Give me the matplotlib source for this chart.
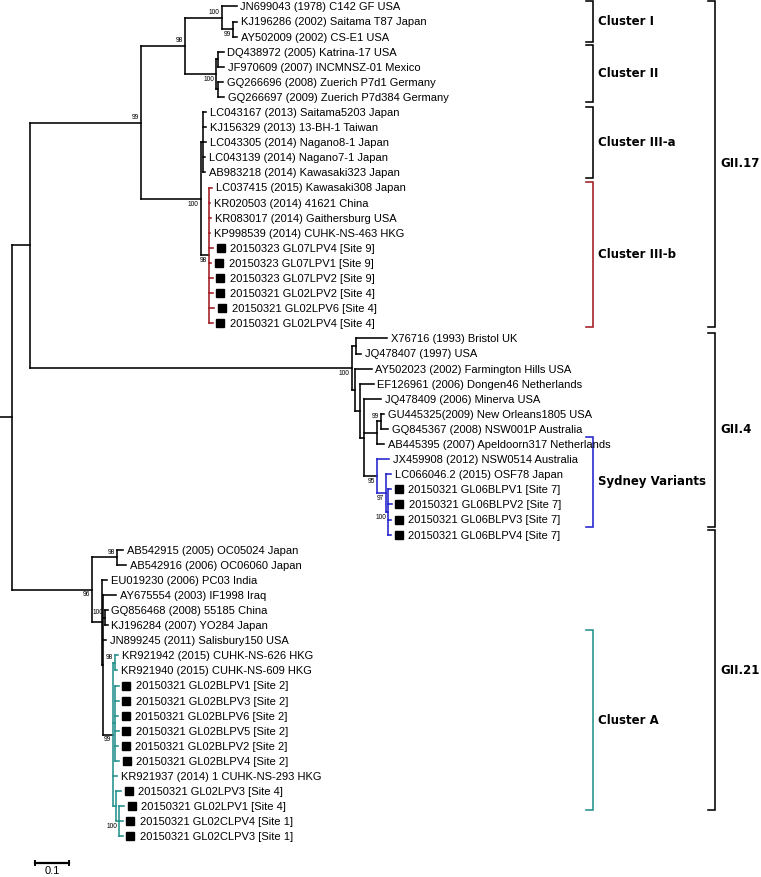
#!/usr/bin/env python3
import matplotlib
matplotlib.use('Agg')
import matplotlib.pyplot as plt
from matplotlib.collections import LineCollection

# --- tree data -------------------------------------------------------------
# leaf   = (label, branch length)
# clade  = ([children], branch length, bootstrap, tag)
# branch lengths in substitutions/site

cluster_I = ([
    ('JN699043 (1978) C142 GF USA', 0.0437),
    ([('KJ196286 (2002) Saitama T87 Japan', 0.0108),
      ('AY502009 (2002) CS-E1 USA', 0.0108)], 0.0338, 99, None),
], 0.1070, 100, None)

cluster_II = ([
    ([('DQ438972 (2005) Katrina-17 USA', 0.0152),
      ('JF970609 (2007) INCMNSZ-01 Mexico', 0.0180)], 0.0067, None, None),
    ([('GQ266696 (2008) Zuerich P7d1 Germany', 0.0137),
      ('GQ266697 (2009) Zuerich P7d384 Germany', 0.0166)], 0.0067, None, None),
], 0.0904, 100, None)

cluster_IIIa = ([
    ('LC043167 (2013) Saitama5203 Japan', 0.0102),
    ('KJ156329 (2013) 13-BH-1 Taiwan', 0.0087),
    ('LC043305 (2014) Nagano8-1 Japan', 0.0087),
    ('LC043139 (2014) Nagano7-1 Japan', 0.0073),
    ('AB983218 (2014) Kawasaki323 Japan', 0.0073),
], 0.0067, None, None)

cluster_IIIb = ([
    ('LC037415 (2015) Kawasaki308 Japan', 0.0087),
    ('KR020503 (2014) 41621 China', 0.0044),
    ('KR083017 (2014) Gaithersburg USA', 0.0058),
    ('KP998539 (2014) CUHK-NS-463 HKG', 0.0044),
    ('20150323 GL07LPV4 [Site 9]', 0.0119),
    ('20150323 GL07LPV1 [Site 9]', 0.0073),
    ('20150323 GL07LPV2 [Site 9]', 0.0110),
    ('20150321 GL02LPV2 [Site 4]', 0.0110),
    ('20150321 GL02LPV6 [Site 4]', 0.0160),
    ('20150321 GL02LPV4 [Site 4]', 0.0110),
], 0.0242, 98, 'IIIb')

gii17 = ([
    ([cluster_I, cluster_II], 0.1292, 98, None),
    ([cluster_IIIa, cluster_IIIb], 0.1749, 100, None),
], 0.3227, 99, None)

sydney = ([
    ('JX459908 (2012) NSW0514 Australia', 0.0350),
    ([('LC066046.2 (2015) OSF78 Japan', 0.0160),
      ([('20150321 GL06BLPV1 [Site 7]', 0.0079),
        ('20150321 GL06BLPV2 [Site 7]', 0.0094),
        ('20150321 GL06BLPV3 [Site 7]', 0.0079),
        ('20150321 GL06BLPV4 [Site 7]', 0.0079)], 0.0067, 100, None)],
     0.0262, 97, None),
], 0.0370, 95, 'sydney')

gii4 = ([
    ([('X76716 (1993) Bristol UK', 0.0904),
      ('JQ478407 (1997) USA', 0.0146)], 0.0125, None, None),
    ([('AY502023 (2002) Farmington Hills USA', 0.0481),
      ([('EF126961 (2006) Dongen46 Netherlands', 0.0394),
        ([('JQ478409 (2006) Minerva USA', 0.0501),
          ([([('GU445325(2009) New Orleans1805 USA', 0.0087),
              ('GQ845367 (2008) NSW001P Australia', 0.0204)], 0.0108, 99, None),
            ('AB445395 (2007) Apeldoorn317 Netherlands', 0.0195)], 0.0379, None, None),
          sydney], 0.0125, None, None)],
       0.0146, None, None)],
     0.0096, None, None),
], 0.9379, 100, None)

cluster_A = ([
    ([('KR921942 (2015) CUHK-NS-626 HKG', 0.0087),
      ('KR921940 (2015) CUHK-NS-609 HKG', 0.0058)], 0.0050, 98, None),
    ([('20150321 GL02BLPV1 [Site 2]', 0.0117),
      ('20150321 GL02BLPV3 [Site 2]', 0.0117),
      ('20150321 GL02BLPV6 [Site 2]', 0.0102),
      ('20150321 GL02BLPV5 [Site 2]', 0.0117),
      ('20150321 GL02BLPV2 [Site 2]', 0.0102),
      ('20150321 GL02BLPV4 [Site 2]', 0.0131)], 0.0035, None, None),
    ('KR921937 (2014) 1 CUHK-NS-293 HKG', 0.0108),
    ([('20150321 GL02LPV3 [Site 4]', 0.0146),
      ([('20150321 GL02LPV1 [Site 4]', 0.0137),
        ('20150321 GL02CLPV4 [Site 1]', 0.0093),
        ('20150321 GL02CLPV3 [Site 1]', 0.0093)], 0.0096, 100, None)],
     0.0079, None, None),
], 0.0300, 99, 'A')

gii21 = ([
    ([('AB542915 (2005) OC05024 Japan', 0.0184),
      ('AB542916 (2006) OC06060 Japan', 0.0271)], 0.0729, 98, None),
    ([('EU019230 (2006) PC03 India', 0.0155),
      ([('AY675554 (2003) IF1998 Iraq', 0.0379),
        ([('GQ856468 (2008) 55185 China', 0.0073),
          ('KJ196284 (2007) YO284 Japan', 0.0073)], 0.0058, 100, None),
        ('JN899245 (2011) Salisbury150 USA', 0.0087),
        cluster_A], 0.0038, None, None)],
     0.0292, None, None),
], 0.2324, 96, None)

tree = ([
    ([gii17, gii4], 0.0525, None, None),
    gii21,
], 0.0350, None, None)

# bracket annotations (spans in leaf-row units)
cluster_names = ['Cluster I', 'Cluster II', 'Cluster III-a', 'Cluster III-b',
                 'Sydney Variants', 'Cluster A']
cluster_top = [-0.36, 2.55, 6.64, 11.61, 28.51, 41.32]
cluster_bottom = [2.33, 6.31, 11.38, 21.22, 34.47, 53.25]
cluster_tags = [None, None, None, 'IIIb', 'sydney', 'A']

genotype_names = ['GII.17', 'GII.4', 'GII.21']
genotype_top = [-0.36, 21.62, 34.69]
genotype_bottom = [21.22, 34.47, 53.25]

# --- style -----------------------------------------------------------------
CLADE_COLOURS = {'IIIb': '#a01c22', 'sydney': '#2222cc', 'A': '#23908c'}
PX_PER_UNIT = 343.0          # pixels per substitution/site
ROW_PX = 15.09               # pixels per leaf row
TOP_PX = 6.5
W, H = 761, 877
LEAF_FONT = ['Liberation Sans', 'DejaVu Sans']
LW = 1.15

segments = {}
leaves = []
boots = []
row = [0]


def walk(node, parent_x, colour, last):
    if isinstance(node[0], str):
        name, bl = node
        x = parent_x + bl
        y = row[0]
        row[0] += 1
        segments.setdefault(colour, []).append([(parent_x, y), (x, y)])
        leaves.append((x, y, name, colour))
        return y
    kids, bl, boot, tag = node
    x = parent_x + bl
    sub = CLADE_COLOURS.get(tag, colour)
    ys = [walk(k, x, sub, i == len(kids) - 1) for i, k in enumerate(kids)]
    y = (ys[0] + ys[-1]) / 2.0
    segments.setdefault(colour, []).append([(parent_x, y), (x, y)])
    segments.setdefault(sub, []).append([(x, ys[0]), (x, ys[-1])])
    if boot is not None:
        boots.append((x, y, boot, not last))
    return y


walk(tree, -12 / PX_PER_UNIT, 'black', True)

fig = plt.figure(figsize=(W / 100, H / 100), dpi=100)
ax = fig.add_axes([0, 0, 1, 1])
ax.set_xlim(-12 / PX_PER_UNIT, (W - 12) / PX_PER_UNIT)
ax.set_ylim((H - TOP_PX) / ROW_PX, -TOP_PX / ROW_PX)
ax.axis('off')

for colour, segs in segments.items():
    ax.add_collection(LineCollection(segs, colors=colour, linewidths=LW,
                                     capstyle='projecting'))

dx = 1 / PX_PER_UNIT
for x, y, name, colour in leaves:
    if name.startswith('2015032'):
        ax.plot(x + 7.7 * dx, y, marker='s', ms=6, color='black', mec='black')
        off = 12.3
    else:
        off = 2.6
    ax.annotate(name, (x, y), xytext=(off, -2.8), textcoords='offset points',
                va='baseline', ha='left', fontsize=8, family=LEAF_FONT)

for x, y, val, above in boots:
    ax.annotate(str(val), (x, y), xytext=(-1.5, 1.2 if above else -1.2),
                textcoords='offset points', ha='right',
                va='bottom' if above else 'top', fontsize=4.8, family=LEAF_FONT)


def bracket(top, bottom, xpx, colour):
    x = (xpx - 12) / PX_PER_UNIT
    t = 7 / PX_PER_UNIT
    ax.plot([x - t, x, x, x - t], [top, top, bottom, bottom], color=colour,
            lw=LW, solid_joinstyle='miter')


for name, top, bot, tag in zip(cluster_names, cluster_top, cluster_bottom, cluster_tags):
    bracket(top, bot, 593.3, CLADE_COLOURS.get(tag, 'black'))
    ax.text((598.5 - 12) / PX_PER_UNIT, (top + bot) / 2, name, va='center',
            ha='left', fontsize=8.5, fontweight='bold', family='DejaVu Sans')

for name, top, bot in zip(genotype_names, genotype_top, genotype_bottom):
    bracket(top, bot, 715, 'black')
    ax.text((720 - 12) / PX_PER_UNIT, (top + bot) / 2, name, va='center',
            ha='left', fontsize=8.5, fontweight='bold', family='DejaVu Sans')

# scale bar
sb_x0 = (35 - 12) / PX_PER_UNIT
sb_y = (863 - TOP_PX) / ROW_PX
cap = 0.12
ax.plot([sb_x0, sb_x0 + 0.1], [sb_y, sb_y], color='black', lw=1.6)
ax.plot([sb_x0, sb_x0], [sb_y - cap, sb_y + cap], color='black', lw=1.4)
ax.plot([sb_x0 + 0.1, sb_x0 + 0.1], [sb_y - cap, sb_y + cap], color='black', lw=1.4)
ax.text(sb_x0 + 0.05, sb_y + 0.22, '0.1', ha='center', va='top', fontsize=8,
        family=LEAF_FONT)

fig.savefig('out.png', dpi=100, facecolor='white')
